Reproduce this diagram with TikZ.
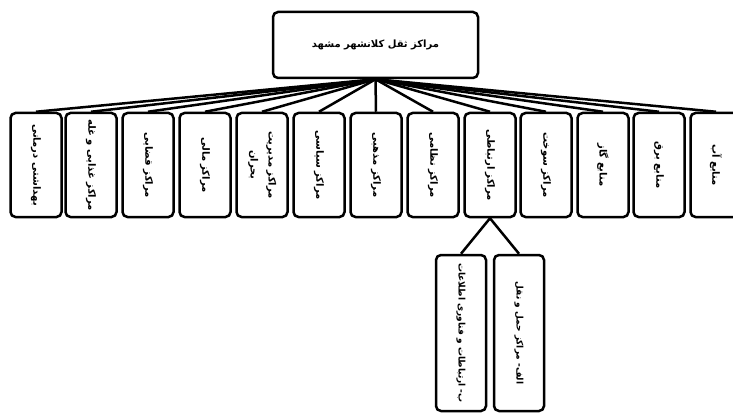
\documentclass[tikz,border=0pt]{standalone}
\usepackage{fontspec}
\usepackage{graphicx}
\usepackage{tikz}
\newfontfamily\arabicfont[Script=Arabic]{DejaVu Sans}
\TeXXeTstate=1
\newcommand{\fatxt}[1]{\beginR #1\endR}
\tikzset{
  mrk_node/.style = {align=center, inner sep=0pt, text centered,
    font=\arabicfont\bfseries\fontsize{10}{12}\selectfont},
  mrk_top/.style = {mrk_node, rectangle, draw=black, fill=white,
    rounded corners=5pt, line width=2.5pt, minimum width=205pt, minimum height=66pt},% noeud du haut
  mrk_box/.style = {mrk_node, rectangle, draw=black, fill=white,
    rounded corners=5pt, line width=2.5pt, minimum width=51pt, minimum height=104pt},% centres
  mrk_sub/.style = {mrk_node, rectangle, draw=black, fill=white,
    font=\arabicfont\bfseries\fontsize{9}{11}\selectfont,
    rounded corners=5pt, line width=2.5pt, minimum width=50pt, minimum height=156pt},% sous-centres
  mrk_line/.style = {-, black, line width=2.5pt},
}

\begin{document}
\begin{tikzpicture}[x=1pt,y=-1pt]
  \useasboundingbox (0,0) rectangle (733,414);
  \clip (0,0) rectangle (733,414);

  \node[mrk_top] (top) at (375.5,45) {\fatxt{مراکز ثقل کلانشهر مشهد}};

  \node[mrk_box] (m1) at (36,165) {\rotatebox{-90}{\fatxt{بهداشتی درمانی}}};
  \node[mrk_box] (m2) at (91,165) {\rotatebox{-90}{\fatxt{مراکز غذایی و غله}}};
  \node[mrk_box] (m3) at (148,165) {\rotatebox{-90}{\fatxt{مراکز قضایی}}};
  \node[mrk_box] (m4) at (205,165) {\rotatebox{-90}{\fatxt{مراکز مالی}}};
  \node[mrk_box] (m5) at (262,165) {\rotatebox{-90}{\begin{tabular}{@{}c@{}}\fatxt{مراکز مدیریت}\\[6pt] \fatxt{بحران}\end{tabular}}};
  \node[mrk_box] (m6) at (319,165) {\rotatebox{-90}{\fatxt{مراکز سیاسی}}};
  \node[mrk_box] (m7) at (376,165) {\rotatebox{-90}{\fatxt{مراکز مذهبی}}};
  \node[mrk_box] (m8) at (433,165) {\rotatebox{-90}{\fatxt{مراکز نظامی}}};
  \node[mrk_box] (m9) at (490,165) {\rotatebox{-90}{\fatxt{مراکز ارتباطی}}};
  \node[mrk_box] (m10) at (546,165) {\rotatebox{-90}{\fatxt{مراکز سوخت}}};
  \node[mrk_box] (m11) at (603,165) {\rotatebox{-90}{\fatxt{منابع گاز}}};
  \node[mrk_box] (m12) at (659,165) {\rotatebox{-90}{\fatxt{منابع برق}}};
  \node[mrk_box] (m13) at (716,165) {\rotatebox{-90}{\fatxt{منابع آب}}};

  \node[mrk_sub] (s1) at (461,333) {\rotatebox{-90}{\fatxt{ب- ارتباطات و فناوری اطلاعات}}};
  \node[mrk_sub] (s2) at (519,333) {\rotatebox{-90}{\fatxt{الف- مراکز حمل و نقل}}};

  % centres
  \path[mrk_line] (top.south) edge (m1.north);
  \path[mrk_line] (top.south) edge (m2.north);
  \path[mrk_line] (top.south) edge (m3.north);
  \path[mrk_line] (top.south) edge (m4.north);
  \path[mrk_line] (top.south) edge (m5.north);
  \path[mrk_line] (top.south) edge (m6.north);
  \path[mrk_line] (top.south) edge (m7.north);
  \path[mrk_line] (top.south) edge (m8.north);
  \path[mrk_line] (top.south) edge (m9.north);
  \path[mrk_line] (top.south) edge (m10.north);
  \path[mrk_line] (top.south) edge (m11.north);
  \path[mrk_line] (top.south) edge (m12.north);
  \path[mrk_line] (top.south) edge (m13.north);
  % sous-centres
  \path[mrk_line] (m9.south) edge (s1.north);
  \path[mrk_line] (m9.south) edge (s2.north);
\end{tikzpicture}
\end{document}
